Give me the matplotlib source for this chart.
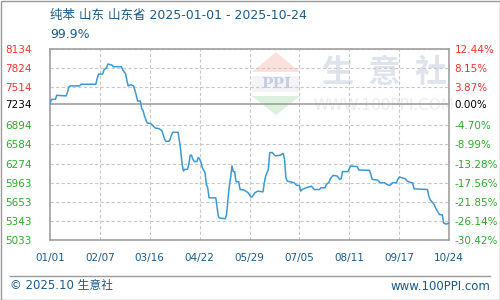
import matplotlib
matplotlib.use("Agg")
import matplotlib.pyplot as plt
import matplotlib.dates as mdates
from matplotlib.patches import Polygon, Rectangle
import pandas as pd

plt.rcParams['font.family'] = ['DejaVu Sans', 'Noto Sans CJK SC']

# price series (date, yuan/ton)
dates = [
    "2025-01-01", "2025-01-02", "2025-01-05", "2025-01-06", "2025-01-13", "2025-01-14",
    "2025-01-15", "2025-01-16", "2025-01-23", "2025-01-24", "2025-02-04", "2025-02-05",
    "2025-02-06", "2025-02-09", "2025-02-10", "2025-02-12", "2025-02-13", "2025-02-16",
    "2025-02-17", "2025-02-23", "2025-02-24", "2025-02-26", "2025-02-27", "2025-02-28",
    "2025-03-02", "2025-03-04", "2025-03-05", "2025-03-06", "2025-03-07", "2025-03-09",
    "2025-03-10", "2025-03-11", "2025-03-12", "2025-03-14", "2025-03-17", "2025-03-20",
    "2025-03-23", "2025-03-25", "2025-03-27", "2025-03-28", "2025-03-30", "2025-03-31",
    "2025-04-01", "2025-04-02", "2025-04-06", "2025-04-07", "2025-04-08", "2025-04-09",
    "2025-04-10", "2025-04-11", "2025-04-13", "2025-04-14", "2025-04-15", "2025-04-16",
    "2025-04-17", "2025-04-18", "2025-04-20", "2025-04-21", "2025-04-22", "2025-04-23",
    "2025-04-24", "2025-04-26", "2025-04-27", "2025-04-28", "2025-04-29", "2025-05-04",
    "2025-05-05", "2025-05-06", "2025-05-07", "2025-05-11", "2025-05-12", "2025-05-13",
    "2025-05-14", "2025-05-15", "2025-05-16", "2025-05-17", "2025-05-18", "2025-05-19",
    "2025-05-21", "2025-05-22", "2025-05-25", "2025-05-28", "2025-05-30", "2025-05-31",
    "2025-06-02", "2025-06-04", "2025-06-08", "2025-06-09", "2025-06-10", "2025-06-12",
    "2025-06-13", "2025-06-15", "2025-06-17", "2025-06-21", "2025-06-23", "2025-06-24",
    "2025-06-25", "2025-06-26", "2025-06-29", "2025-07-01", "2025-07-03", "2025-07-05",
    "2025-07-06", "2025-07-07", "2025-07-10", "2025-07-14", "2025-07-16", "2025-07-20",
    "2025-07-21", "2025-07-24", "2025-07-25", "2025-07-27", "2025-07-28", "2025-07-30",
    "2025-08-02", "2025-08-04", "2025-08-05", "2025-08-06", "2025-08-10", "2025-08-12",
    "2025-08-17", "2025-08-18", "2025-08-26", "2025-08-27", "2025-08-28", "2025-09-01",
    "2025-09-02", "2025-09-03", "2025-09-06", "2025-09-08", "2025-09-10", "2025-09-11",
    "2025-09-12", "2025-09-15", "2025-09-16", "2025-09-17", "2025-09-21", "2025-09-22",
    "2025-09-23", "2025-09-26", "2025-09-27", "2025-09-28", "2025-10-08", "2025-10-09",
    "2025-10-10", "2025-10-13", "2025-10-14", "2025-10-17", "2025-10-19", "2025-10-20",
    "2025-10-22", "2025-10-24",
]
prices = [
    7245, 7316, 7316, 7382, 7372, 7437,
    7519, 7535, 7535, 7562, 7562, 7655,
    7726, 7726, 7791, 7835, 7890, 7873,
    7847, 7847, 7791, 7737, 7627, 7535,
    7555, 7535, 7463, 7382, 7290, 7290,
    7164, 7136, 7054, 6934, 6920, 6852,
    6840, 6808, 6672, 6634, 6634, 6660,
    6728, 6782, 6782, 6644, 6480, 6262,
    6153, 6180, 6180, 6262, 6410, 6410,
    6344, 6307, 6307, 6372, 6350, 6290,
    6208, 6126, 5935, 5881, 5717, 5717,
    5553, 5406, 5389, 5378, 5444, 5690,
    5907, 6045, 6235, 6143, 6143, 5979,
    5979, 5853, 5843, 5799, 5733, 5733,
    5799, 5826, 5815, 5963, 6071, 6180,
    6452, 6452, 6399, 6410, 6440, 6344,
    6045, 5989, 5973, 5963, 5919, 5919,
    5826, 5853, 5881, 5907, 5853, 5853,
    5881, 5881, 5935, 5973, 6029, 6083,
    6071, 6017, 6029, 6143, 6143, 6235,
    6224, 6169, 6165, 6099, 6017, 6005,
    5989, 5963, 5963, 5935, 5919, 5935,
    5963, 5963, 6017, 6055, 6033, 6017,
    5989, 5963, 5963, 5864, 5853, 5744,
    5690, 5608, 5553, 5444, 5444, 5308,
    5291, 5308,
]

base_price = 7234
y_ticks = [8134, 7824, 7514, 7234, 6894, 6584, 6274, 5963, 5653, 5343, 5033]
pct_labels = ["12.44%", "8.15%", "3.87%", "0.00%", "-4.70%", "-8.99%",
              "-13.28%", "-17.56%", "-21.85%", "-26.14%", "-30.42%"]
x_ticks = ["2025-01-01", "2025-02-07", "2025-03-16", "2025-04-22", "2025-05-29",
           "2025-07-05", "2025-08-11", "2025-09-17", "2025-10-24"]

title = "纯苯 山东 山东省 2025-01-01 - 2025-10-24"
subtitle = "99.9%"
footer_left = "© 2025.10 生意社"
footer_right = "www.100PPI.com"

blue_text = "#1b5a8a"
red = "#ff3030"
green = "#2aaa2a"
line_color = "#3a9ad9"
grid_color = "#c8c8c8"
frame_color = "#a0a0a0"

fig = plt.figure(figsize=(5, 3), dpi=100)

# background layer in pixel coordinates: border, footer, watermark
bg = fig.add_axes([0, 0, 1, 1], zorder=0)
bg.set_xlim(0, 500)
bg.set_ylim(300, 0)
bg.axis('off')
bg.add_patch(Rectangle((0.5, 0.5), 499, 299, fill=False, edgecolor="#999999", lw=1))
bg.plot([10, 490], [275.5, 275.5], color="#999999", lw=1)
bg.text(10, 286, footer_left, color=blue_text, fontsize=8.5, va='center', ha='left',
        family=['DejaVu Sans', 'Noto Sans CJK SC'])
bg.text(490, 286, footer_right, color=blue_text, fontsize=8.5, va='center', ha='right')
bg.text(50, 15, title, color=blue_text, fontsize=9, va='center', ha='left',
        family=['DejaVu Sans', 'Noto Sans CJK SC'])
bg.text(50, 34, subtitle, color=blue_text, fontsize=9, va='center', ha='left')

# watermark logo
bg.add_patch(Polygon([(252, 72), (276, 52), (300, 72)], closed=True, color="#fbe1dd", lw=0))
bg.add_patch(Rectangle((252, 76), 48, 16, color="#f4f4f6", lw=0))
bg.text(276, 84, "PPI", color="#c5cde0", fontsize=11, fontweight='bold', family='DejaVu Serif',
        ha='center', va='center')
bg.add_patch(Polygon([(252, 96), (300, 96), (276, 115)], closed=True, color="#ddf0de", lw=0))
bg.text(384, 73, "生  意  社", color="#dfe3ec", fontsize=23, fontweight='bold', ha='center', va='center',
        family=['Noto Sans CJK SC'])
bg.text(384, 105, "WWW.100PPI.COM", color="#ececec", fontsize=11, ha='center', va='center')

# main chart
ax = fig.add_axes([50 / 500, 60 / 300, 399 / 500, 191 / 300], zorder=1)
ax.patch.set_alpha(0)
x = pd.to_datetime(dates)
ax.plot(x, prices, color=line_color, lw=1.1, zorder=3)

xt = pd.to_datetime(x_ticks)
ax.set_xlim(xt[0], xt[-1])
ax.set_ylim(y_ticks[-1], y_ticks[0])

for v in y_ticks:
    if v == base_price:
        ax.axhline(v, color=frame_color, lw=1.2, zorder=2)
    else:
        ax.axhline(v, color=grid_color, lw=0.8, ls=(0, (3, 2)), zorder=1)
for d in xt[1:-1]:
    ax.axvline(d, color=grid_color, lw=0.8, ls=(0, (3, 2)), zorder=1)

for s in ax.spines.values():
    s.set_color(frame_color)
    s.set_linewidth(1.2)

ax.set_xticks(xt)
ax.set_xticklabels([d.strftime("%m/%d") for d in xt], color=blue_text, fontsize=7.5)
ax.tick_params(axis='x', length=0, pad=9)

ax.set_yticks(y_ticks)
ax.set_yticklabels([str(v) for v in y_ticks], fontsize=7.5)
ax.tick_params(axis='y', length=0, pad=32)
for lab, v in zip(ax.get_yticklabels(), y_ticks):
    lab.set_horizontalalignment('left')
    lab.set_color(red if v > base_price else ('black' if v == base_price else green))

ax2 = ax.twinx()
ax2.set_ylim(ax.get_ylim())
ax2.set_yticks(y_ticks)
ax2.set_yticklabels(pct_labels, fontsize=7.5)
ax2.tick_params(axis='y', length=0, pad=4)
for s in ax2.spines.values():
    s.set_visible(False)
for lab, v in zip(ax2.get_yticklabels(), y_ticks):
    lab.set_color(red if v > base_price else ('black' if v == base_price else green))

fig.savefig("out.png", dpi=100)
